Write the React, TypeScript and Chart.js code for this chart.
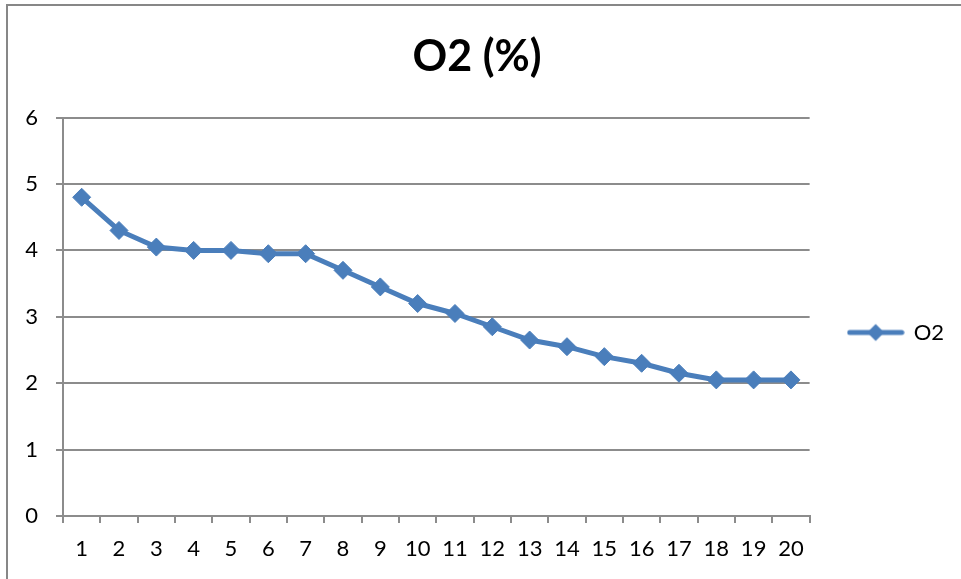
import React, { useEffect, useRef } from "react";
import { Chart, registerables } from "chart.js";

Chart.register(...registerables);

const categories = ["1", "2", "3", "4", "5", "6", "7", "8", "9", "10", "11", "12", "13", "14", "15", "16", "17", "18", "19", "20"];
const o2Values = [4.8, 4.3, 4.05, 4.0, 4.0, 3.95, 3.95, 3.7, 3.45, 3.2, 3.05, 2.85, 2.65, 2.55, 2.4, 2.3, 2.15, 2.05, 2.05, 2.05];
const yTickValues = [0, 1, 2, 3, 4, 5, 6];
const seriesLabel = "O2";
const chartTitle = "O2 (%)";

const FONT = "Lato, 'Open Sans', sans-serif";
const SERIES_COLOR = "#4A7EBB";
const GRID_COLOR = "#8C8C8C";

function makeLegendImage(): HTMLCanvasElement {
  const c = document.createElement("canvas");
  c.width = 58;
  c.height = 20;
  const ctx = c.getContext("2d")!;
  ctx.strokeStyle = SERIES_COLOR;
  ctx.lineWidth = 5;
  ctx.lineCap = "round";
  ctx.beginPath();
  ctx.moveTo(3, 10);
  ctx.lineTo(55, 10);
  ctx.stroke();
  ctx.fillStyle = SERIES_COLOR;
  ctx.beginPath();
  ctx.moveTo(29, 1.5);
  ctx.lineTo(37.5, 10);
  ctx.lineTo(29, 18.5);
  ctx.lineTo(20.5, 10);
  ctx.closePath();
  ctx.fill();
  return c;
}

export default function App() {
  const canvasRef = useRef<HTMLCanvasElement | null>(null);

  useEffect(() => {
    const canvas = canvasRef.current;
    if (!canvas) return;
    const legendImg = makeLegendImage();
    const chart = new Chart(canvas, {
      type: "line",
      data: {
        labels: categories,
        datasets: [
          {
            label: seriesLabel,
            data: o2Values,
            borderColor: SERIES_COLOR,
            backgroundColor: SERIES_COLOR,
            borderWidth: 5,
            tension: 0,
            pointStyle: "rectRot",
            pointRadius: 9,
            pointHoverRadius: 9,
            pointBackgroundColor: SERIES_COLOR,
            pointBorderColor: SERIES_COLOR,
            pointBorderWidth: 1,
          },
        ],
      },
      options: {
        animation: false,
        responsive: false,
        maintainAspectRatio: false,
        layout: { padding: { left: 0, right: 7, top: 0, bottom: 0 } },
        plugins: {
          title: {
            display: true,
            text: chartTitle,
            color: "#000",
            font: { family: FONT, size: 43, weight: "bold" },
            padding: { top: 31, bottom: 35 },
          },
          legend: {
            position: "right",
            title: {
              display: true,
              text: " ",
              font: { family: FONT, size: 10 },
              padding: { top: 0, bottom: 74 },
            },
            labels: {
              usePointStyle: true,
              pointStyle: legendImg as any,
              pointStyleWidth: 54,
              padding: 39,
              color: "#000",
              font: { family: FONT, size: 22 },
            },
          },
          tooltip: { enabled: false },
        },
        scales: {
          x: {
            type: "category",
            offset: true,
            grid: {
              display: true,
              offset: true,
              drawOnChartArea: false,
              drawTicks: true,
              tickLength: 7,
              color: GRID_COLOR,
              lineWidth: 2,
            },
            border: { display: true, color: GRID_COLOR, width: 2 },
            ticks: {
              color: "#000",
              font: { family: FONT, size: 22 },
              padding: 13,
              autoSkip: false,
              maxRotation: 0,
            },
            afterFit: (scale: any) => {
              scale.height = 63;
            },
          },
          y: {
            min: 0,
            max: 6,
            afterBuildTicks: (scale: any) => {
              scale.ticks = yTickValues.map((v) => ({ value: v }));
            },
            grid: {
              display: true,
              drawTicks: true,
              tickLength: 7,
              color: GRID_COLOR,
              lineWidth: 2,
            },
            border: { display: true, color: GRID_COLOR, width: 2 },
            ticks: {
              color: "#000",
              font: { family: FONT, size: 22 },
              padding: 18,
            },
            afterFit: (scale: any) => {
              scale.width = 63;
            },
          },
        },
      },
    });
    return () => chart.destroy();
  }, []);

  return (
    <div style={{ position: "fixed", left: 0, top: 0, width: 961, height: 579, background: "#fff", overflow: "hidden" }}>
      <div
        style={{
          position: "absolute",
          left: 6,
          top: 4,
          width: 2000,
          height: 2000,
          borderLeft: "2px solid #878787",
          borderTop: "2px solid #878787",
        }}
      />
      <canvas ref={canvasRef} width={961} height={579} style={{ position: "absolute", left: 0, top: 0, width: 961, height: 579 }} />
    </div>
  );
}
